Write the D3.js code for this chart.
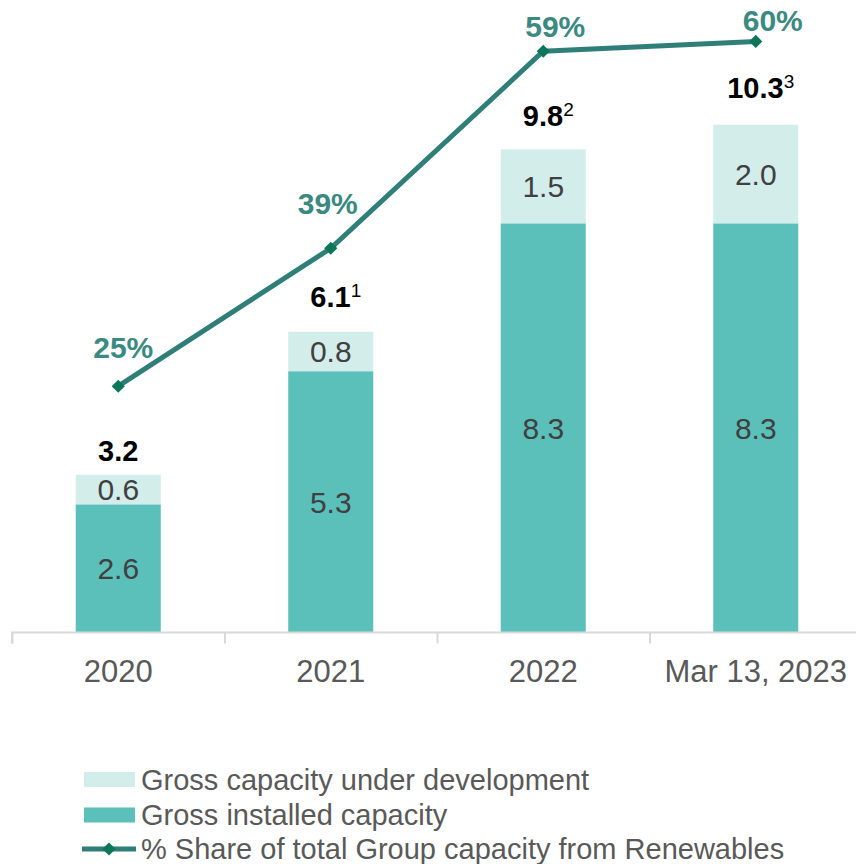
<!DOCTYPE html>
<html>
<head>
<meta charset="utf-8">
<script src="https://cdn.jsdelivr.net/npm/d3@7"></script>
<style>
  html, body { margin: 0; padding: 0; background: #ffffff; }
  svg { display: block; font-family: "Liberation Sans", Arial, sans-serif; }
</style>
</head>
<body>
<svg id="chart" width="856" height="864"></svg>
<script>
// Renewable capacity by period (GW)
const categories = ["2020", "2021", "2022", "Mar 13, 2023"];
const installed = [2.6, 5.3, 8.3, 8.3];
const underDevelopment = [0.6, 0.8, 1.5, 2.0];
const totals = [3.2, 6.1, 9.8, 10.3];
const totalNotes = ["", "1", "2", "3"];
const renewableShare = [25, 39, 59, 60];
const legendLabels = [
  "Gross capacity under development",
  "Gross installed capacity",
  "% Share of total Group capacity from Renewables"
];

// label placement tweaks (px), per category
const totalLabelLift = [14, 25, 23, 27];
const shareLabelDx = [5, -3, 12, 17];
const shareLabelLift = [28, 34, 14, 10];

const colors = {
  installed: "#5bbfba",
  development: "#d3edeb",
  line: "#2f7f78",
  marker: "#0b7658",
  shareText: "#3a8a82",
  segText: "#404040",
  axisText: "#595959",
  axis: "#d9d9d9"
};

const svg = d3.select("#chart");
const baseY = 632.5;

const x = d3.scaleBand().domain(categories).range([12, 862]).paddingInner(0.6).paddingOuter(0.3);
const y = d3.scaleLinear().domain([0, 12.83]).range([baseY, 0]);
const yPct = d3.scaleLinear().domain([0, 64.2]).range([baseY, 0]);
const cx = c => x(c) + x.bandwidth() / 2;

// stacked bars
const rows = categories.map((c, i) => ({ c, installed: installed[i], development: underDevelopment[i] }));
const stack = d3.stack().keys(["installed", "development"])(rows);

const layers = svg.append("g").selectAll("g").data(stack).join("g")
  .attr("fill", d => colors[d.key]);
layers.selectAll("rect").data(d => d).join("rect")
  .attr("x", d => x(d.data.c))
  .attr("width", x.bandwidth())
  .attr("y", d => y(d[1]))
  .attr("height", d => y(d[0]) - y(d[1]));

// segment values
layers.selectAll("text").data(d => d.map(v => ({ v, key: d.key }))).join("text")
  .attr("x", d => cx(d.v.data.c))
  .attr("y", d => (y(d.v[0]) + y(d.v[1])) / 2)
  .attr("dy", "0.36em")
  .attr("text-anchor", "middle")
  .attr("fill", colors.segText)
  .attr("font-size", 30)
  .text(d => d3.format(".1f")(d.v.data[d.key]));

// x axis
const xAxis = d3.axisBottom(d3.scaleLinear().domain([0, 4]).range([12, 862]))
  .tickValues([0, 1, 2, 3, 4]).tickSize(11).tickFormat("");
const axisG = svg.append("g").attr("transform", `translate(0,${baseY})`).call(xAxis);
axisG.selectAll("path, line").attr("stroke", colors.axis).attr("stroke-width", 2);
axisG.select("path").attr("d", "M12,11V0H862V11");

svg.append("g").selectAll("text").data(categories).join("text")
  .attr("x", d => cx(d))
  .attr("y", 682)
  .attr("text-anchor", "middle")
  .attr("fill", colors.axisText)
  .attr("font-size", 31)
  .text(d => d);

// totals above bars
const totG = svg.append("g").selectAll("text").data(totals).join("text")
  .attr("x", (d, i) => cx(categories[i]) + (totalNotes[i] ? 5 : 0))
  .attr("y", (d, i) => y(d) - totalLabelLift[i])
  .attr("text-anchor", "middle")
  .attr("fill", "#000000");
totG.append("tspan").attr("font-weight", "bold").attr("font-size", 29).text(d => d3.format(".1f")(d));
totG.append("tspan").attr("font-size", 19).attr("dy", -10).text((d, i) => totalNotes[i]);

// share line
const line = d3.line().x((d, i) => cx(categories[i])).y(d => yPct(d));
svg.append("path").datum(renewableShare)
  .attr("d", line)
  .attr("fill", "none")
  .attr("stroke", colors.line)
  .attr("stroke-width", 5);

const diamond = d3.symbol().type(d3.symbolDiamond2).size(110);
svg.append("g").selectAll("path").data(renewableShare).join("path")
  .attr("d", diamond)
  .attr("transform", (d, i) => `translate(${cx(categories[i])},${yPct(d)})`)
  .attr("fill", colors.marker);

svg.append("g").selectAll("text").data(renewableShare).join("text")
  .attr("x", (d, i) => cx(categories[i]) + shareLabelDx[i])
  .attr("y", (d, i) => yPct(d) - shareLabelLift[i])
  .attr("text-anchor", "middle")
  .attr("fill", colors.shareText)
  .attr("font-weight", "bold")
  .attr("font-size", 30)
  .text(d => d + "%");

// legend
const legend = svg.append("g").attr("transform", "translate(84,0)");
const rowY = [779.5, 815, 849];
legend.append("rect").attr("x", 0).attr("y", rowY[0] - 7.5).attr("width", 51).attr("height", 15).attr("fill", colors.development);
legend.append("rect").attr("x", 0).attr("y", rowY[1] - 7.5).attr("width", 51).attr("height", 15).attr("fill", colors.installed);
legend.append("line").attr("x1", -2).attr("x2", 52).attr("y1", rowY[2]).attr("y2", rowY[2])
  .attr("stroke", colors.line).attr("stroke-width", 5);
legend.append("path").attr("d", diamond).attr("transform", `translate(25,${rowY[2]})`).attr("fill", colors.marker);
legend.selectAll("text").data(legendLabels).join("text")
  .attr("x", 57)
  .attr("y", (d, i) => rowY[i])
  .attr("dy", "0.35em")
  .attr("fill", colors.axisText)
  .attr("font-size", 29)
  .text(d => d);
</script>
</body>
</html>
